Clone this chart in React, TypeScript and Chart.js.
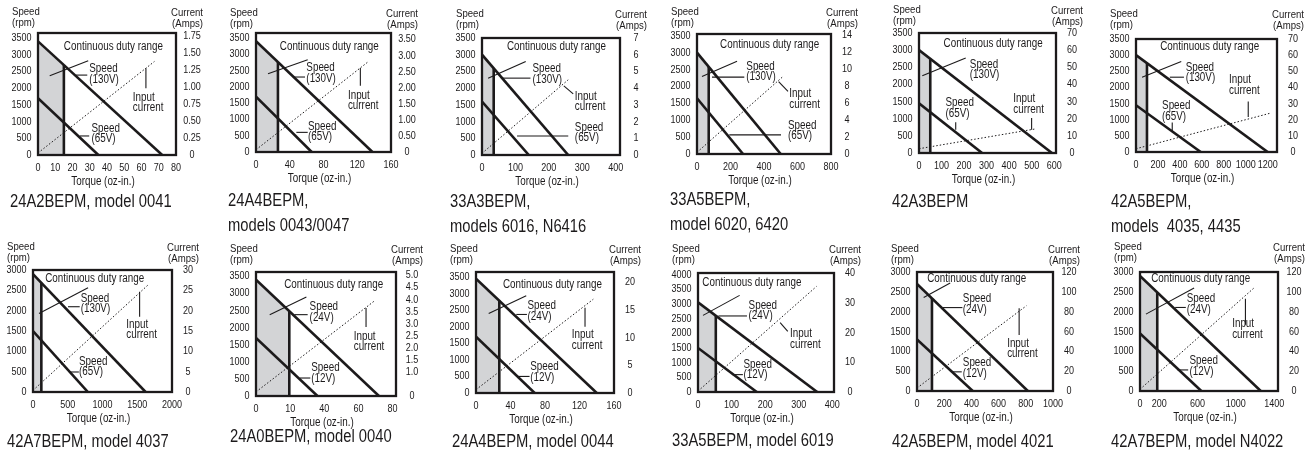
import React, { useEffect, useRef } from 'react';
import { Chart, registerables } from 'chart.js';
Chart.register(...registerables);

const FONT = "'Liberation Sans', Arial, Helvetica, sans-serif";
const SX = 0.82; // horizontal condensing of the Helvetica-like face
const INK = '#1c1a1b';
const SHADE = '#d3d4d6';

// ---------- data ----------
const models = [
  '24A2BEPM, model 0041',
  '24A4BEPM,\nmodels 0043/0047',
  '33A3BEPM,\nmodels 6016, N6416',
  '33A5BEPM,\nmodel 6020, 6420',
  '42A3BEPM',
  '42A5BEPM,\nmodels  4035, 4435',
  '42A7BEPM, model 4037',
  '24A0BEPM, model 0040',
  '24A4BEPM, model 0044',
  '33A5BEPM, model 6019',
  '42A5BEPM, model 4021',
  '42A7BEPM, model N4022',
];

const xTicks = [
  [0, 10, 20, 30, 40, 50, 60, 70, 80],
  [0, 40, 80, 120, 160],
  [0, 100, 200, 300, 400],
  [0, 200, 400, 600, 800],
  [0, 100, 200, 300, 400, 500, 600],
  [0, 200, 400, 600, 800, 1000, 1200],
  [0, 500, 1000, 1500, 2000],
  [0, 20, 40, 60, 80],
  [0, 40, 80, 120, 160],
  [0, 100, 200, 300, 400],
  [0, 200, 400, 600, 800, 1000],
  [0, 200, 600, 1000, 1400],
];
const xTickText = [
  ['0', '10', '20', '30', '40', '50', '60', '70', '80'],
  ['0', '40', '80', '120', '160'],
  ['0', '100', '200', '300', '400'],
  ['0', '200', '400', '600', '800'],
  ['0', '100', '200', '300', '400', '500', '600'],
  ['0', '200', '400', '600', '800', '1000', '1200'],
  ['0', '500', '1000', '1500', '2000'],
  ['0', '10', '40', '60', '80'],
  ['0', '40', '80', '120', '160'],
  ['0', '100', '200', '300', '400'],
  ['0', '200', '400', '600', '800', '1000'],
  ['0', '200', '600', '1000', '1400'],
];
const xMax = [80, 160, 413, 800, 608, 1285, 2000, 82, 160, 405, 1000, 1440];

const SPEED_3000 = [0, 500, 1000, 1500, 2000, 2500, 3000];
const SPEED_3500 = [0, 500, 1000, 1500, 2000, 2500, 3000, 3500];
const SPEED_4000 = [0, 500, 1000, 1500, 2000, 2500, 3000, 3500, 4000];
const speedTicks = [SPEED_3500, SPEED_3500, SPEED_3500, SPEED_3500, SPEED_3500, SPEED_3500,
  SPEED_3000, SPEED_3500, SPEED_3500, SPEED_4000, SPEED_3000, SPEED_3000];
const speedMax = [3650, 3650, 3500, 3550, 3500, 3500, 3000, 3625, 3650, 4050, 3000, 3000];

const currentTicks = [
  [0, 0.25, 0.5, 0.75, 1, 1.25, 1.5, 1.75],
  [0, 0.5, 1, 1.5, 2, 2.5, 3, 3.5],
  [0, 1, 2, 3, 4, 5, 6, 7],
  [0, 2, 4, 6, 8, 10, 12, 14],
  [0, 10, 20, 30, 40, 50, 60, 70],
  [0, 10, 20, 30, 40, 50, 60, 70],
  [0, 5, 10, 15, 20, 25, 30],
  [0, 1, 1.5, 2, 2.5, 3, 3.5, 4, 4.5, 5],
  [0, 5, 10, 15, 20],
  [0, 10, 20, 30, 40],
  [0, 20, 40, 60, 80, 100, 120],
  [0, 20, 40, 60, 80, 100, 120],
];
const currentTickText = [
  ['0', '0.25', '0.50', '0.75', '1.00', '1.25', '1.50', '1.75'],
  ['0', '0.50', '1.00', '1.50', '2.00', '2.50', '3.00', '3.50'],
  ['0', '1', '2', '3', '4', '5', '6', '7'],
  ['0', '2', '4', '6', '8', '10', '12', '14'],
  ['0', '10', '20', '30', '40', '50', '60', '70'],
  ['0', '10', '20', '30', '40', '50', '60', '70'],
  ['0', '5', '10', '15', '20', '25', '30'],
  ['0', '1.0', '1.5', '2.0', '2.5', '3.0', '3.5', '4.0', '4.5', '5.0'],
  ['0', '5', '10', '15', '20'],
  ['0', '10', '20', '30', '40'],
  ['0', '20', '40', '60', '80', '100', '120'],
  ['0', '20', '40', '60', '80', '100', '120'],
];
const currentMax = [1.8, 3.7, 7, 14.1, 70, 70, 30, 5.14, 21.8, 40, 120, 120];

// speed lines: no-load speed (rpm) and stall torque (oz-in.)
const hiNoLoad = [3400, 3400, 3000, 3000, 3000, 3000, 2900, 3400, 3450, 3050, 2700, 2900];
const hiStall = [72, 138, 258, 500, 590, 1200, 1620, 72, 140, 355, 815, 1260];
const loNoLoad = [1700, 1700, 1600, 1650, 1450, 1450, 1500, 1700, 1700, 1500, 1300, 1450];
const loStall = [35, 66, 140, 275, 280, 590, 790, 36, 68, 175, 410, 640];
const hiVolt = ['(130V)', '(130V)', '(130V)', '(130V)', '(130V)', '(130V)', '(130V)', '(24V)', '(24V)', '(24V)', '(24V)', '(24V)'];
const loVolt = ['(65V)', '(65V)', '(65V)', '(65V)', '(65V)', '(65V)', '(65V)', '(12V)', '(12V)', '(12V)', '(12V)', '(12V)'];
// continuous duty torque limit
const dutyTorque = [15, 26, 35, 70, 50, 100, 120, 19.5, 27, 53, 110, 180];
// input current line
const currentAt0 = [0.03, 0.07, 0.1, 0.2, 2.5, 2, 0.4, 0.17, 0.6, 0.3, 3, 1.7];
const currentEndTorque = [67.5, 133.6, 258, 513, 519, 1221, 1654, 69.9, 136, 353, 805, 1188];
const currentEnd = [1.38, 2.82, 4.5, 9.1, 14.1, 24, 26.3, 3.97, 16.9, 35.5, 86, 103.8];

// ---------- layout (page pixels / plot-area fractions) ----------
const boxes = [
  [38, 33, 176, 155], [256, 33, 391, 152], [482, 38, 620, 155], [697, 34, 831, 154],
  [919, 33, 1056, 153], [1136, 39, 1277, 152], [33, 270, 172, 392], [256, 272, 396, 396],
  [476, 272, 614, 393], [698, 273, 834, 392], [917, 272, 1053, 391], [1140, 272, 1278, 391],
];
const titleY = [11.7, 12.7, 14, 11.7, 10, 14, 246.7, 249, 249, 249, 249, 246.7];
const captionPos = [
  [10, 201.7], [228.3, 200], [450, 201.7], [670, 199], [891.7, 201.7], [1110.7, 201.7],
  [7.3, 441.7], [230, 436.7], [451.7, 441.7], [671.7, 440], [891.7, 441.7], [1110.7, 441.7],
];
const cdrPos = [[0.546, 0.115], [0.543, 0.112], [0.54, 0.077], [0.542, 0.089], [0.541, 0.092], [0.523, 0.068],
  [0.444, 0.068], [0.555, 0.102], [0.554, 0.104], [0.396, 0.081], [0.439, 0.056], [0.44, 0.059]];
const cdrLeader = [[0.085, 0.351, 0.364, 0.227], [0.089, 0.342, 0.383, 0.224], [0.044, 0.343, 0.317, 0.2],
  [0.037, 0.354, 0.299, 0.228], [0.024, 0.356, 0.341, 0.208], [0.043, 0.338, 0.321, 0.2],
  [0.043, 0.356, 0.396, 0.145], [0.098, 0.344, 0.36, 0.202], [0.092, 0.342, 0.364, 0.197],
  [0.037, 0.356, 0.306, 0.188], [0.049, 0.214, 0.244, 0.093], [0.043, 0.354, 0.392, 0.135]];
const hiPos = [[0.371, 0.296], [0.373, 0.294], [0.366, 0.263], [0.368, 0.27], [0.371, 0.264], [0.352, 0.25],
  [0.343, 0.233], [0.383, 0.282], [0.373, 0.282], [0.372, 0.272], [0.337, 0.225], [0.339, 0.225]];
const hiLeader = [[0.274, 0.345, 0.357, 0.345], [0.274, 0.37, 0.363, 0.37], [0.148, 0.343, 0.351, 0.343],
  [0.112, 0.359, 0.353, 0.359], null, [0.24, 0.338, 0.34, 0.338],
  [0.252, 0.301, 0.336, 0.301], [0.274, 0.344, 0.369, 0.344], [0.292, 0.351, 0.369, 0.351],
  [0.15, 0.361, 0.36, 0.361], [0.19, 0.299, 0.334, 0.299], [0.255, 0.298, 0.332, 0.298]];
const curPos = [[0.687, 0.53], [0.681, 0.524], [0.673, 0.5], [0.689, 0.501], [0.688, 0.55], [0.66, 0.362],
  [0.671, 0.447], [0.698, 0.519], [0.694, 0.521], [0.677, 0.51], [0.663, 0.6], [0.668, 0.438]];
const curLeader = [[0.782, 0.288, 0.782, 0.452], [0.773, 0.294, 0.773, 0.443], [0.593, 0.409, 0.661, 0.477],
  [0.609, 0.396, 0.679, 0.479], [0.822, 0.708, 0.822, 0.806], [0.796, 0.553, 0.796, 0.691],
  [0.767, 0.178, 0.767, 0.384], [0.786, 0.29, 0.786, 0.444], [0.79, 0.296, 0.79, 0.452],
  [0.604, 0.417, 0.66, 0.49], [0.751, 0.304, 0.751, 0.53], [0.764, 0.225, 0.764, 0.444]];
const loPos = [[0.388, 0.781], [0.385, 0.784], [0.673, 0.763], [0.679, 0.763], [0.193, 0.583], [0.185, 0.591],
  [0.331, 0.748], [0.395, 0.774], [0.393, 0.786], [0.335, 0.77], [0.337, 0.763], [0.358, 0.747]];
const loLeader = [[0.303, 0.844, 0.371, 0.844], [0.299, 0.835, 0.383, 0.835], [0.254, 0.837, 0.625, 0.837],
  [0.241, 0.841, 0.627, 0.841], [0.268, 0.744, 0.268, 0.806], [0.257, 0.738, 0.257, 0.818],
  [0.26, 0.836, 0.33, 0.836], [0.312, 0.855, 0.388, 0.855], [0.304, 0.863, 0.388, 0.863],
  [0.249, 0.854, 0.33, 0.854], [0.256, 0.839, 0.329, 0.839], [0.272, 0.823, 0.349, 0.823]];

const PL = 38, PR = 36, PT = 34, PB = 40;

function MotorChart({ i }: { i: number }) {
  const ref = useRef<HTMLCanvasElement>(null);
  const [L, T, R, B] = boxes[i];
  const W = R - L + PL + PR;
  const H = B - T + PT + PB;
  const ox = L - PL;
  const oy = T - PT;

  useEffect(() => {
    const hiAtDuty = hiNoLoad[i] * (1 - dutyTorque[i] / hiStall[i]);
    const decor = {
      id: 'decor',
      afterDatasetsDraw(chart: any) {
        const ctx = chart.ctx;
        const a = chart.chartArea;
        const fx = (f: number) => a.left + f * (a.right - a.left);
        const fy = (f: number) => a.top + f * (a.bottom - a.top);
        const txt = (t: string, x: number, y: number, size: number, align: string) => {
          ctx.save();
          ctx.font = `${size}px ${FONT}`;
          ctx.textAlign = align;
          ctx.textBaseline = 'middle';
          ctx.fillStyle = INK;
          ctx.translate(x, y);
          ctx.scale(SX, 1);
          ctx.fillText(t, 0, 0);
          ctx.restore();
        };
        ctx.save();
        ctx.strokeStyle = INK;
        ctx.lineWidth = 2.3;
        ctx.strokeRect(a.left, a.top, a.right - a.left, a.bottom - a.top);
        ctx.lineWidth = 1.1;
        const seg = (s: number[] | null) => {
          if (!s) return;
          ctx.beginPath();
          ctx.moveTo(fx(s[0]), fy(s[1]));
          ctx.lineTo(fx(s[2]), fy(s[3]));
          ctx.stroke();
        };
        seg(cdrLeader[i]); seg(hiLeader[i]); seg(curLeader[i]); seg(loLeader[i]);
        ctx.restore();

        // tick labels placed by the library scales
        const sx = chart.scales.x, sy = chart.scales.y, sy2 = chart.scales.y2;
        sx.ticks.forEach((t: any, k: number) => txt(xTickText[i][k], sx.getPixelForValue(t.value), a.bottom + 12.5, 11, 'center'));
        sy.ticks.forEach((t: any) => txt(String(t.value), a.left - 6.5, sy.getPixelForValue(t.value), 11, 'right'));
        sy2.ticks.forEach((t: any, k: number) => txt(currentTickText[i][k], a.right + 16, sy2.getPixelForValue(t.value), 11, 'center'));

        // annotations
        txt('Continuous duty range', fx(cdrPos[i][0]), fy(cdrPos[i][1]), 12, 'center');
        const two = (p: number[], l1: string, l2: string) => {
          txt(l1, fx(p[0]), fy(p[1]), 12, 'left');
          txt(l2, fx(p[0]), fy(p[1]) + 10.5, 12, 'left');
        };
        two(hiPos[i], 'Speed', hiVolt[i]);
        two(curPos[i], 'Input', 'current');
        two(loPos[i], 'Speed', loVolt[i]);

        // axis titles
        const ty = titleY[i] - oy;
        txt('Speed', a.left - 26, ty, 11.7, 'left');
        txt('(rpm)', a.left - 26, ty + 11, 11.7, 'left');
        txt('Current', a.right + 27, ty + 1, 11.7, 'right');
        txt('(Amps)', a.right + 27, ty + 12, 11.7, 'right');
        txt('Torque (oz-in.)', (a.left + a.right) / 2 - 4, a.bottom + 27, 12, 'center');
      },
    };

    const chart = new Chart(ref.current as HTMLCanvasElement, {
      type: 'line',
      data: {
        datasets: [
          { data: [{ x: 0, y: hiNoLoad[i] }, { x: hiStall[i], y: 0 }], borderColor: INK, borderWidth: 2.6, yAxisID: 'y' },
          { data: [{ x: 0, y: loNoLoad[i] }, { x: loStall[i], y: 0 }], borderColor: INK, borderWidth: 2.6, yAxisID: 'y' },
          { data: [{ x: dutyTorque[i], y: 0 }, { x: dutyTorque[i], y: hiAtDuty }], borderColor: INK, borderWidth: 2.6, yAxisID: 'y' },
          { data: [{ x: 0, y: currentAt0[i] }, { x: currentEndTorque[i], y: currentEnd[i] }], borderColor: INK, borderWidth: 1, borderDash: [1.5, 2], yAxisID: 'y2' },
          { data: [{ x: 0, y: hiNoLoad[i] }, { x: dutyTorque[i], y: hiAtDuty }], borderColor: 'rgba(0,0,0,0)', borderWidth: 0, fill: 'origin', backgroundColor: SHADE, yAxisID: 'y' },
        ] as any,
      },
      options: {
        animation: false,
        responsive: false,
        events: [],
        layout: { padding: { top: PT, left: 0, right: 0, bottom: 0 } },
        elements: { point: { radius: 0 }, line: { tension: 0 } },
        plugins: { legend: { display: false }, tooltip: { enabled: false }, title: { display: false } },
        scales: {
          x: {
            type: 'linear', min: 0, max: xMax[i],
            afterBuildTicks: (s: any) => { s.ticks = xTicks[i].map((v) => ({ value: v })); },
            afterFit: (s: any) => { s.height = PB; },
            grid: { display: false, drawTicks: false }, border: { display: false },
            ticks: { display: false, autoSkip: false },
          },
          y: {
            type: 'linear', position: 'left', min: 0, max: speedMax[i],
            afterBuildTicks: (s: any) => { s.ticks = speedTicks[i].map((v) => ({ value: v })); },
            afterFit: (s: any) => { s.width = PL; },
            grid: { display: false, drawTicks: false }, border: { display: false },
            ticks: { display: false, autoSkip: false },
          },
          y2: {
            type: 'linear', position: 'right', min: 0, max: currentMax[i],
            afterBuildTicks: (s: any) => { s.ticks = currentTicks[i].map((v) => ({ value: v })); },
            afterFit: (s: any) => { s.width = PR; },
            grid: { display: false, drawTicks: false }, border: { display: false },
            ticks: { display: false, autoSkip: false },
          },
        },
      } as any,
      plugins: [decor],
    });
    return () => chart.destroy();
  }, [i]);

  return (
    <canvas
      ref={ref}
      width={W}
      height={H}
      style={{ position: 'absolute', left: ox, top: oy, width: W, height: H }}
    />
  );
}

export default function App() {
  return (
    <div style={{ position: 'fixed', left: 0, top: 0, width: 1314, height: 451, background: '#fff', overflow: 'hidden' }}>
      {models.map((m, i) => (
        <React.Fragment key={i}>
          <MotorChart i={i} />
          <div
            style={{
              position: 'absolute', left: captionPos[i][0], top: captionPos[i][1] - 12.5,
              fontFamily: FONT, fontSize: 18, lineHeight: '25px', whiteSpace: 'pre', color: INK,
              transform: `scaleX(${SX})`, transformOrigin: '0 0',
            }}
          >
            {m}
          </div>
        </React.Fragment>
      ))}
    </div>
  );
}
